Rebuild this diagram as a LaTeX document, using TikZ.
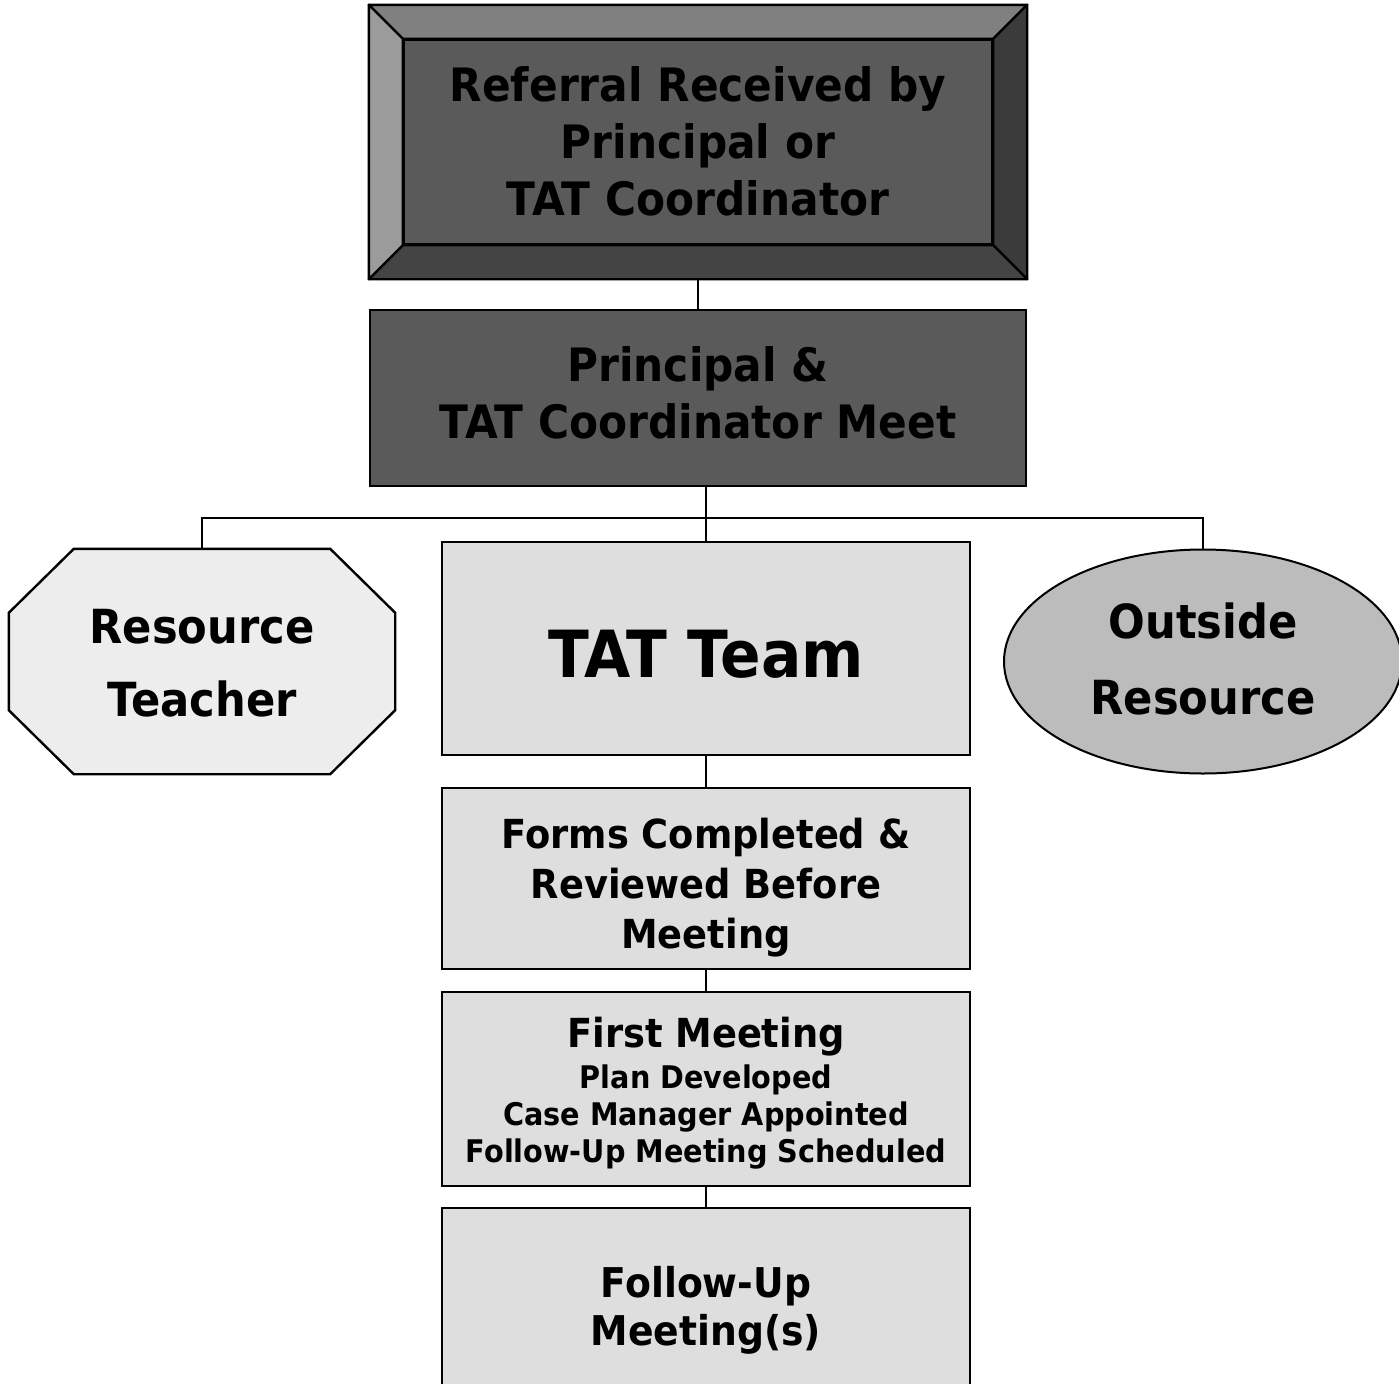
\documentclass[tikz,border=0pt]{standalone}
\usepackage{fontspec}
\setmainfont{DejaVu Sans}[FakeStretch=0.92]
\usetikzlibrary{calc,shapes.geometric,backgrounds}

\definecolor{bevtop}{HTML}{808080}
\definecolor{bevleft}{HTML}{9B9B9B}
\definecolor{bevright}{HTML}{3B3B3B}
\definecolor{bevbottom}{HTML}{444444}
\definecolor{darkbox}{HTML}{5A5A5A}
\definecolor{lightbox}{HTML}{DEDEDE}
\definecolor{octfill}{HTML}{EDEDED}
\definecolor{ovalfill}{HTML}{BCBCBC}

\tikzset{
  flowbox/.style={draw, line width=1.2pt, fill=lightbox, align=center, inner sep=0pt,
                  minimum width=264pt},
  lastline/.style={text height=#1, text depth=0pt},
  bevel/.style={draw, line width=1.2pt, line join=round},
  link/.style={line width=1pt},
}

\begin{document}
\begin{tikzpicture}[x=0.5pt,y=-0.5pt]
  \useasboundingbox (0,0) rectangle (1399,1383);
  \clip (0,0) rectangle (1399,1383);

  % top: bevelled box
  \node[flowbox, fill=darkbox, minimum width=294pt, minimum height=102pt, lastline=73pt,
        font=\bfseries\fontsize{23}{28.5}\selectfont] (referral) at (698,142)
        {Referral Received by\\Principal or\\TAT Coordinator};
  \node[flowbox, fill=darkbox, minimum width=328pt, minimum height=88pt, lastline=40pt,
        font=\bfseries\fontsize{23}{28.5}\selectfont] (meet) at (698,398)
        {Principal \&\\TAT Coordinator Meet};

  % middle row
  \node[flowbox, draw=none, fill=none, minimum width=192pt, minimum height=111.5pt,
        lastline=54.5pt, font=\bfseries\fontsize{23.5}{36.5}\selectfont]
        (resteach) at (202,661.5) {Resource\\Teacher};
  \node[flowbox, minimum height=106.5pt, lastline=28.5pt,
        font=\bfseries\fontsize{32.5}{36}\selectfont]
        (team) at (706,648.5) {TAT Team};
  \node[flowbox, ellipse, fill=ovalfill, line width=1pt, minimum width=199pt,
        minimum height=112pt, lastline=52.5pt, font=\bfseries\fontsize{23.5}{38}\selectfont]
        (outside) at (1203,661.5) {Outside\\Resource};

  % lower chain
  \node[flowbox, minimum height=90.5pt, lastline=69.5pt,
        font=\bfseries\fontsize{20}{25}\selectfont]
        (forms) at (706,878.5) {Forms Completed \&\\Reviewed Before\\Meeting};
  \node[flowbox, minimum height=97pt, lastline=73pt,
        font=\bfseries\fontsize{15.6}{18.5}\selectfont]
        (first) at (706,1089)
        {{\fontsize{20}{24}\selectfont First Meeting}\\[2pt]Plan Developed\\
         Case Manager Appointed\\Follow-Up Meeting Scheduled};
  \node[flowbox, minimum height=104pt, lastline=33pt,
        font=\bfseries\fontsize{20.5}{24}\selectfont]
        (followup) at (706,1312) {Follow-Up\\Meeting(s)};

  % octagon behind the resource teacher text
  \begin{scope}[on background layer]
    \filldraw[line width=1.2pt, fill=octfill]
      ($(resteach.north west)+(32.5pt,0)$) -- ($(resteach.north east)+(-32.5pt,0)$)
      -- ($(resteach.north east)+(0,-32pt)$) -- ($(resteach.south east)+(0,32pt)$)
      -- ($(resteach.south east)+(-32.5pt,0)$) -- ($(resteach.south west)+(32.5pt,0)$)
      -- ($(resteach.south west)+(0,32pt)$) -- ($(resteach.north west)+(0,-32pt)$) -- cycle;
  \end{scope}

  % connectors
  \coordinate (bus) at (706,518);
  \draw[link] (referral.south) -- (meet.north);
  \draw[link] (meet.south -| team.north) -- (team.north);
  \draw[link] (resteach.north) |- (bus) -| (outside.north);
  \foreach \a/\b in {team/forms, forms/first, first/followup}
    \draw[link] (\a.south) -- (\b.north);

  % bevel round the top box
  \coordinate (onw) at ($(referral.north west)+(-17pt,17pt)$);
  \coordinate (one) at ($(referral.north east)+(17pt,17pt)$);
  \coordinate (ose) at ($(referral.south east)+(17pt,-17pt)$);
  \coordinate (osw) at ($(referral.south west)+(-17pt,-17pt)$);
  \filldraw[bevel, fill=bevtop] (onw) -- (one) -- (referral.north east) -- (referral.north west) -- cycle;
  \filldraw[bevel, fill=bevright] (one) -- (ose) -- (referral.south east) -- (referral.north east) -- cycle;
  \filldraw[bevel, fill=bevbottom] (ose) -- (osw) -- (referral.south west) -- (referral.south east) -- cycle;
  \filldraw[bevel, fill=bevleft] (osw) -- (onw) -- (referral.north west) -- (referral.south west) -- cycle;
\end{tikzpicture}
\end{document}
